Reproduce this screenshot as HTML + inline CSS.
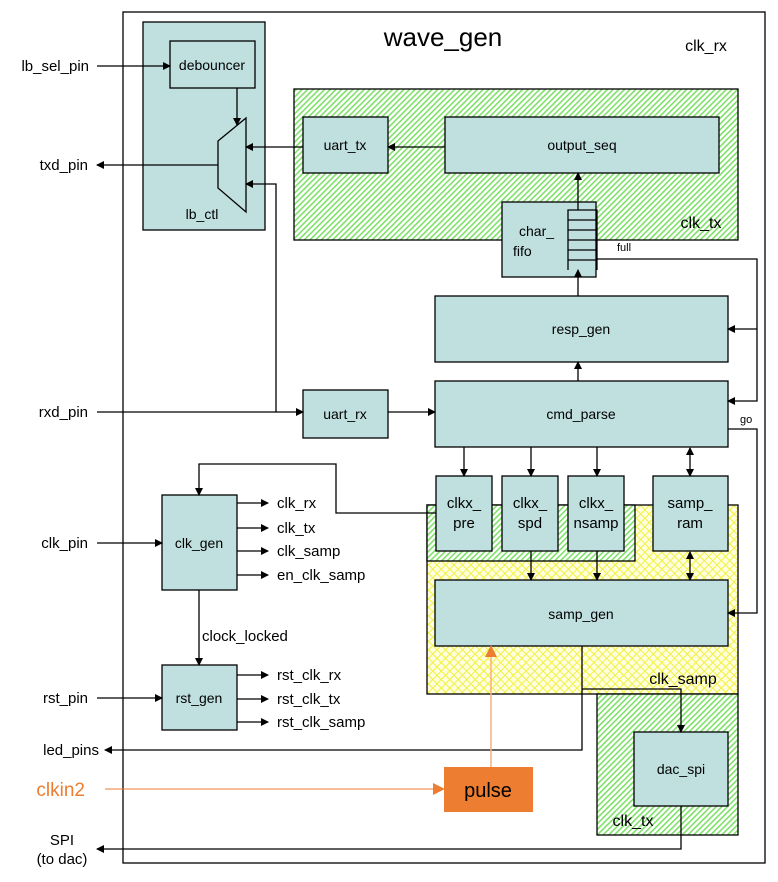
<!DOCTYPE html><html><head><style>body{margin:0;background:#fff}svg{display:block;font-family:"Liberation Sans",Arial,sans-serif}</style></head><body>
<svg width="778" height="882" viewBox="0 0 778 882" xmlns="http://www.w3.org/2000/svg">
<defs>
<pattern id="g" width="4" height="4" patternUnits="userSpaceOnUse" patternTransform="rotate(45)"><rect width="4" height="4" fill="#fff"/><rect width="1.6" height="4" fill="#7fe06a"/></pattern>
<pattern id="y" width="6" height="6" patternUnits="userSpaceOnUse" patternTransform="rotate(45)"><rect width="6" height="6" fill="#ffffe0"/><rect width="1" height="6" fill="#f0f040"/><rect width="6" height="1" fill="#f0f040"/></pattern>
<marker id="a" markerWidth="8" markerHeight="8" refX="7" refY="4" orient="auto" markerUnits="userSpaceOnUse"><path d="M0,0L8,4L0,8z" fill="#000"/></marker>
<marker id="as" markerWidth="8" markerHeight="8" refX="1" refY="4" orient="auto" markerUnits="userSpaceOnUse"><path d="M8,0L0,4L8,8z" fill="#000"/></marker>
<marker id="o" markerWidth="12" markerHeight="12" refX="11" refY="6" orient="auto" markerUnits="userSpaceOnUse"><path d="M0,0L12,6L0,12z" fill="#ED7D31"/></marker>
</defs>
<g stroke="#000" stroke-width="1.3" fill="none">
<rect x="123" y="12" width="642" height="851"/>
<rect x="294" y="89" width="444" height="151" fill="url(#g)"/>
<rect x="427" y="505" width="311" height="189" fill="url(#y)"/>
<rect x="427" y="505" width="208" height="56" fill="url(#g)"/>
<rect x="597" y="694" width="141" height="141" fill="url(#g)"/>
<g fill="#c0e0e0">
<rect x="143" y="22" width="122" height="208"/>
<rect x="170" y="41" width="85" height="47"/>
<path d="M218,141L246,118L246,212L218,188Z"/>
<rect x="303" y="117" width="85" height="56"/>
<rect x="445" y="117" width="274" height="56"/>
<rect x="502" y="202" width="94" height="75"/>
<rect x="435" y="296" width="293" height="66"/>
<rect x="435" y="381" width="293" height="66"/>
<rect x="303" y="390" width="85" height="48"/>
<rect x="162" y="495" width="75" height="95"/>
<rect x="162" y="665" width="75" height="65"/>
<rect x="436" y="476" width="56" height="75"/>
<rect x="502" y="476" width="56" height="75"/>
<rect x="568" y="476" width="56" height="75"/>
<rect x="653" y="476" width="75" height="75"/>
<rect x="435" y="580" width="293" height="66"/>
<rect x="634" y="732" width="94" height="74"/>
</g>
<path d="M568,270V210H597V270M568,220H597M568,230H597M568,240H597M568,250H597M568,260H597"/>
<path d="M97,66H170" marker-end="url(#a)"/>
<path d="M237,88V125" marker-end="url(#a)"/>
<path d="M218,165H97" marker-end="url(#a)"/>
<path d="M303,147H246" marker-end="url(#a)"/>
<path d="M445,147H388" marker-end="url(#a)"/>
<path d="M578,210V173" marker-end="url(#a)"/>
<path d="M578,296V270" marker-end="url(#a)"/>
<path d="M578,381V362" marker-end="url(#a)"/>
<path d="M597,259H757V401H728" marker-end="url(#a)"/>
<path d="M757,329H728" marker-end="url(#a)"/>
<path d="M728,429H757V613H728" marker-end="url(#a)"/>
<path d="M97,412H303" marker-end="url(#a)"/>
<path d="M276,412V184H246" marker-end="url(#a)"/>
<path d="M388,412H435" marker-end="url(#a)"/>
<path d="M464,447V476" marker-end="url(#a)"/>
<path d="M531,447V476" marker-end="url(#a)"/>
<path d="M597,447V476" marker-end="url(#a)"/>
<path d="M690,448V476" marker-end="url(#a)" marker-start="url(#as)"/>
<path d="M690,552V580" marker-end="url(#a)" marker-start="url(#as)"/>
<path d="M531,551V580" marker-end="url(#a)"/>
<path d="M597,551V580" marker-end="url(#a)"/>
<path d="M436,513H336V464H199V495" marker-end="url(#a)"/>
<path d="M97,543H162" marker-end="url(#a)"/>
<path d="M97,698H162" marker-end="url(#a)"/>
<path d="M199,590V665" marker-end="url(#a)"/>
<path d="M237,503H268" marker-end="url(#a)"/>
<path d="M237,528H268" marker-end="url(#a)"/>
<path d="M237,551H268" marker-end="url(#a)"/>
<path d="M237,575H268" marker-end="url(#a)"/>
<path d="M237,675H268" marker-end="url(#a)"/>
<path d="M237,699H268" marker-end="url(#a)"/>
<path d="M237,722H268" marker-end="url(#a)"/>
<path d="M582,646V750H105" marker-end="url(#a)"/>
<path d="M582,689H681V732" marker-end="url(#a)"/>
<path d="M681,806V849H97" marker-end="url(#a)"/>
</g>
<path d="M105,789H444" stroke="#ED7D31" stroke-width="1" marker-end="url(#o)"/>
<path d="M491,767V646" stroke="#F4B183" stroke-width="1.5" marker-end="url(#o)"/>
<rect x="444" y="767" width="89" height="45" fill="#ED7D31"/>
<g font-size="14" fill="#000" text-anchor="middle">
<text x="443" y="46" font-size="26">wave_gen</text>
<text x="706" y="51" font-size="16">clk_rx</text>
<text x="701" y="228" font-size="16">clk_tx</text>
<text x="683" y="684" font-size="16">clk_samp</text>
<text x="633" y="826" font-size="16">clk_tx</text>
<text x="212" y="70">debouncer</text>
<text x="202" y="219">lb_ctl</text>
<text x="345" y="150">uart_tx</text>
<text x="582" y="150">output_seq</text>
<text x="519" y="236" text-anchor="start">char_</text>
<text x="513" y="256" text-anchor="start">fifo</text>
<text x="617" y="251" font-size="11" text-anchor="start">full</text>
<text x="740" y="423" font-size="11" text-anchor="start">go</text>
<text x="581" y="334">resp_gen</text>
<text x="581" y="419">cmd_parse</text>
<text x="345" y="419">uart_rx</text>
<text x="199" y="548">clk_gen</text>
<text x="199" y="703">rst_gen</text>
<text x="464" y="508" font-size="15">clkx_</text><text x="464" y="528" font-size="15">pre</text>
<text x="530" y="508" font-size="15">clkx_</text><text x="530" y="528" font-size="15">spd</text>
<text x="596" y="508" font-size="15">clkx_</text><text x="596" y="528" font-size="15">nsamp</text>
<text x="690" y="508" font-size="15">samp_</text><text x="690" y="528" font-size="15">ram</text>
<text x="581" y="619">samp_gen</text>
<text x="681" y="774">dac_spi</text>
<text x="488" y="797" font-size="20">pulse</text>
<g text-anchor="start" font-size="15">
<text x="277" y="508">clk_rx</text><text x="277" y="533">clk_tx</text><text x="277" y="556">clk_samp</text><text x="277" y="580">en_clk_samp</text>
<text x="202" y="641">clock_locked</text>
<text x="277" y="680">rst_clk_rx</text><text x="277" y="704">rst_clk_tx</text><text x="277" y="727">rst_clk_samp</text>
</g>
<g text-anchor="end" font-size="15">
<text x="89" y="71">lb_sel_pin</text><text x="88" y="170">txd_pin</text><text x="88" y="417">rxd_pin</text>
<text x="88" y="548">clk_pin</text><text x="88" y="703">rst_pin</text><text x="99" y="755">led_pins</text>
<text x="85" y="796" font-size="19" fill="#ED7D31">clkin2</text>
</g>
<text x="62" y="845" font-size="15">SPI</text><text x="62" y="864" font-size="15">(to dac)</text>
</g>
</svg></body></html>
